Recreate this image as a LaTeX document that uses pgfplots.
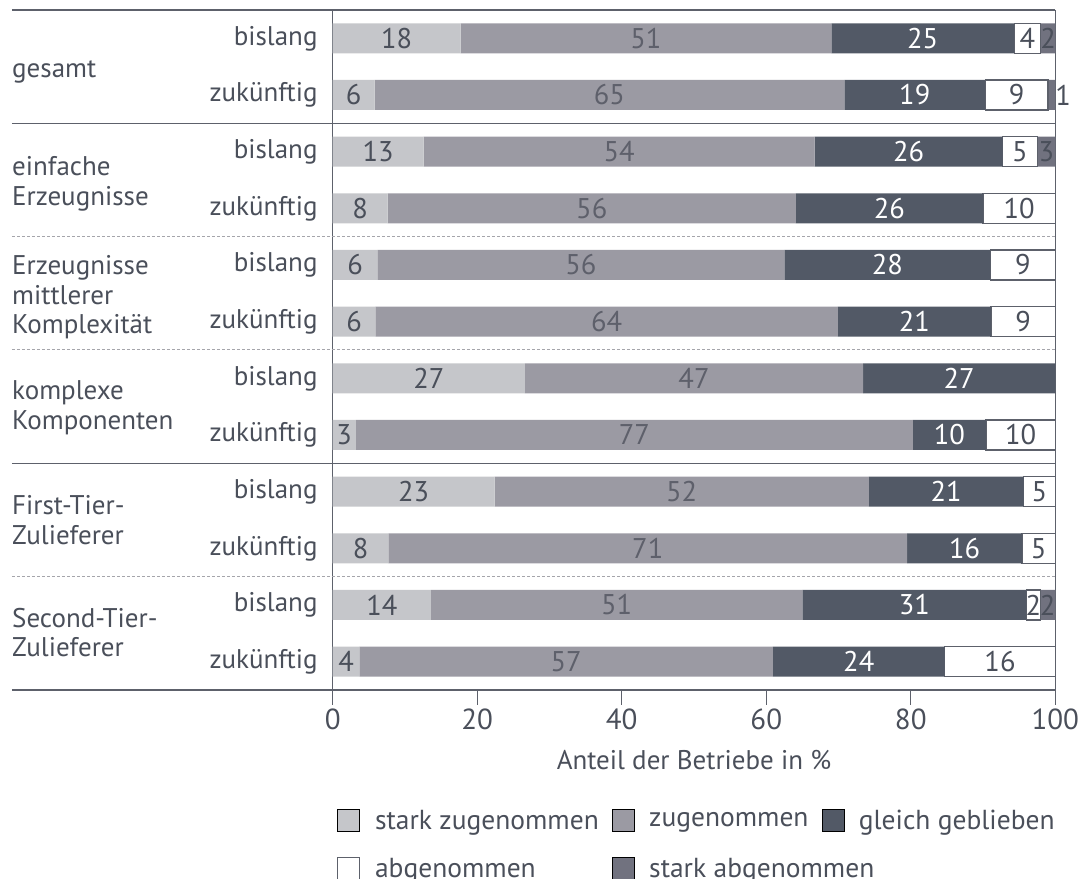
\documentclass[border=0pt]{standalone}
\usepackage{pgfplots}
\pgfplotsset{compat=1.18}
\usepackage{pgfplotstable}
\usepackage{fontspec}
\setmainfont{PT Sans}
\definecolor{szug}{HTML}{C5C6CA}
\definecolor{zug}{HTML}{9B9AA3}
\definecolor{gleich}{HTML}{525966}
\definecolor{sab}{HTML}{71727F}
\definecolor{textc}{HTML}{4A4F5A}
\definecolor{zugtext}{HTML}{5E606B}
\definecolor{framec}{HTML}{5D616B}
\definecolor{dashc}{HTML}{A5A5AB}
\newcommand\fsa{\fontsize{27}{29.5}\selectfont}
\newcommand\fsb{\fontsize{28.5}{30}\selectfont}
\newcommand\fst{\fontsize{29}{31}\selectfont}
\newcommand\fsl{\fontsize{27}{30}\selectfont}
\newcommand\fsg{\fontsize{27.5}{30}\selectfont}

% y = row (11 = top), x = segment width, c = label position, lab = label
\pgfplotstableread{
y x c lab
11 17.7 8.85 18
10 5.8 2.9 6
9 12.6 6.3 13
8 7.6 3.8 8
7 6.2 3.1 6
6 5.9 2.95 6
5 26.6 13.3 27
4 3.2 1.6 3
3 22.4 11.2 23
2 7.7 3.85 8
1 13.6 6.8 14
0 3.7 1.85 4
}\tszug
\pgfplotstableread{
y x c lab
11 51.3 43.35 51
10 65.0 38.3 65
9 54.1 39.65 54
8 56.5 35.85 56
7 56.3 34.35 56
6 64.0 37.9 64
5 46.8 50.0 47
4 77.1 41.75 77
3 51.8 48.3 52
2 71.8 43.6 71
1 51.4 39.3 51
0 57.2 32.3 57
}\tzug
\pgfplotstableread{
y x c lab
11 25.3 81.65 25
10 19.5 80.55 19
9 26.0 79.7 26
8 25.9 77.05 26
7 28.5 76.75 28
6 21.2 80.5 21
5 26.6 86.7 27
4 10.1 85.35 10
3 21.4 84.9 21
2 15.9 87.45 16
1 31.0 80.5 31
0 23.8 72.8 24
}\tgleich
\pgfplotstableread{
y x c lab
11 3.7 96.15 4
10 8.7 94.65 9
9 4.8 95.1 5
8 10.0 95.0 10
7 9.0 95.5 9
6 8.9 95.55 9
5 0 nan 0
4 9.6 95.2 10
3 4.4 97.8 5
2 4.6 97.7 5
1 1.9 96.95 2
0 15.3 92.35 16
}\tabg
\pgfplotstableread{
y x c lab
11 2.0 99.0 2
10 1.0 101.1 1
9 2.5 98.75 3
8 0 nan 0
7 0 nan 0
6 0 nan 0
5 0 nan 0
4 0 nan 0
3 0 nan 0
2 0 nan 0
1 2.1 98.95 2
0 0 nan 0
}\tsab

\pgfplotsset{
  base/.style={
    scale only axis,
    width=722.6pt, height=680pt,
    xmin=0, xmax=100,
    ymin=-0.5, ymax=11.5,
    clip=false,
  },
}
\tikzset{grp/.style={anchor=west, align=left, font=\fsa, text=textc, inner sep=0pt, xshift=-320.7pt}}

\begin{document}
\begin{tikzpicture}
\begin{axis}[
  base,
  xbar stacked,
  bar width=30pt,
  axis line style={draw=none},
  xtick={0,20,40,60,80,100},
  xtick pos=left,
  ytick pos=left,
  tick align=outside,
  major tick length=15pt,
  xtick style={draw=none},
  ytick={0,...,11},
  yticklabels={zukünftig,bislang,zukünftig,bislang,zukünftig,bislang,zukünftig,bislang,zukünftig,bislang,zukünftig,bislang},
  ytick style={draw=none},
  yticklabel style={font=\fsa, text=textc, inner sep=0pt},
  xticklabel style={font=\fst, text=textc},
  /pgf/number format/assume math mode=true,
  xlabel={Anteil der Betriebe in \%},
  xlabel style={font=\fsl, text=textc, yshift=-14pt},
  legend columns=3,
  legend cell align=left,
  legend image code/.code={\draw[#1] (0pt,-11pt) rectangle (22pt,11pt);},
  legend style={at={(axis cs:0,-0.5)}, anchor=north west, xshift=1pt, yshift=-116pt,
    draw=none, fill=none, font=\fsg, text=textc,
    /tikz/every odd column/.append style={column sep=13pt},
    /tikz/every even column/.append style={column sep=11pt},
    row sep=23pt},
]
\addplot[fill=szug, draw=none] table[x=x, y=y]{\tszug};
\addlegendentry{stark zugenommen}
\addplot[fill=zug, draw=none] table[x=x, y=y]{\tzug};
\addlegendentry{zugenommen}
\addplot[fill=gleich, draw=none] table[x=x, y=y]{\tgleich};
\addlegendentry{gleich geblieben}
\addplot[fill=white, draw=framec, line width=1.2pt] table[x=x, y=y]{\tabg};
\addlegendentry{abgenommen}
\addplot[fill=sab, draw=none] table[x=x, y=y]{\tsab};
\addlegendentry{\makebox[0pt][l]{stark abgenommen}}

% frame and separators
\draw[framec, line width=1.3pt] ([xshift=-320.7pt]axis cs:0,11.5) -- (axis cs:100,11.5);
\draw[framec, line width=1.3pt] ([xshift=-320.7pt]axis cs:0,-0.5) -- (axis cs:100,-0.5);
\draw[framec, line width=1.3pt] ([xshift=-320.7pt]axis cs:0,9.5) -- (axis cs:100,9.5);
\draw[framec, line width=1.3pt] ([xshift=-320.7pt]axis cs:0,3.5) -- (axis cs:100,3.5);
\draw[dashc, line width=1pt, dash pattern=on 3pt off 2pt] ([xshift=-320.7pt]axis cs:0,7.5) -- (axis cs:100,7.5);
\draw[dashc, line width=1pt, dash pattern=on 3pt off 2pt] ([xshift=-320.7pt]axis cs:0,5.5) -- (axis cs:100,5.5);
\draw[dashc, line width=1pt, dash pattern=on 3pt off 2pt] ([xshift=-320.7pt]axis cs:0,1.5) -- (axis cs:100,1.5);
\draw[framec, line width=1.3pt] (axis cs:0,11.5) -- (axis cs:0,-0.5);
\draw[framec, line width=1.3pt] (axis cs:100,11.5) -- (axis cs:100,-0.5);
% tick marks below the frame
\draw[framec, line width=1.3pt] (axis cs:0,-0.5) -- ([yshift=-15pt]axis cs:0,-0.5);
\draw[framec, line width=1.3pt] (axis cs:20,-0.5) -- ([yshift=-15pt]axis cs:20,-0.5);
\draw[framec, line width=1.3pt] (axis cs:40,-0.5) -- ([yshift=-15pt]axis cs:40,-0.5);
\draw[framec, line width=1.3pt] (axis cs:60,-0.5) -- ([yshift=-15pt]axis cs:60,-0.5);
\draw[framec, line width=1.3pt] (axis cs:80,-0.5) -- ([yshift=-15pt]axis cs:80,-0.5);
\draw[framec, line width=1.3pt] (axis cs:100,-0.5) -- ([yshift=-15pt]axis cs:100,-0.5);

% group labels
\node[grp, yshift=-5pt] at (axis cs:0,10.5) {gesamt};
\node[grp, yshift=-4pt] at (axis cs:0,8.5) {einfache\\Erzeugnisse};
\node[grp, yshift=-4pt] at (axis cs:0,6.5) {Erzeugnisse\\mittlerer\\Komplexität};
\node[grp, yshift=-1pt] at (axis cs:0,4.5) {komplexe\\Komponenten};
\node[grp, yshift=0pt] at (axis cs:0,2.5) {First-Tier-\\Zulieferer};
\node[grp, yshift=1pt] at (axis cs:0,0.5) {Second-Tier-\\Zulieferer};
\coordinate (bl) at (rel axis cs:0,0);
\coordinate (tr) at (rel axis cs:1,1);
\end{axis}

% overlay axis for the segment labels
\begin{axis}[
  base,
  hide axis,
  point meta=explicit symbolic,
  nodes near coords,
  every node near coord/.append style={anchor=center, font=\fsb, inner sep=0pt},
]
\addplot[only marks, mark=none, nodes near coords style={text=textc}] table[x=c, y=y, meta=lab]{\tszug};
\addplot[only marks, mark=none, nodes near coords style={text=zugtext}] table[x=c, y=y, meta=lab]{\tzug};
\addplot[only marks, mark=none, nodes near coords style={text=white}] table[x=c, y=y, meta=lab]{\tgleich};
\addplot[only marks, mark=none, nodes near coords style={text=textc}] table[x=c, y=y, meta=lab]{\tabg};
\addplot[only marks, mark=none, nodes near coords style={text=textc}] table[x=c, y=y, meta=lab]{\tsab};
\end{axis}
\pgfresetboundingbox
\path ([xshift=-332.7pt,yshift=-189pt]bl) rectangle ([xshift=25.7pt,yshift=10pt]tr);
\end{tikzpicture}
\end{document}
